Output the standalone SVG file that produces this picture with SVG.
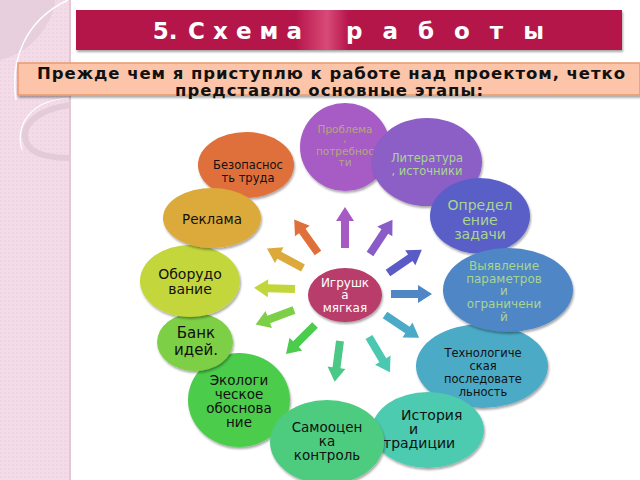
<svg xmlns="http://www.w3.org/2000/svg" xmlns:xlink="http://www.w3.org/1999/xlink" width="640" height="480" viewBox="0 0 640 480">
<defs>
<style>
.t{font-family:"DejaVu Sans","Noto Sans",sans-serif;text-anchor:middle}
.b{fill:#111}
.g{fill:#a9d58e}
.o{fill:#b3a77e}
.w{fill:#fff}
.n{filter:url(#sh)}
</style>
<filter id="sh" x="-20%" y="-20%" width="140%" height="140%">
<feDropShadow dx="1" dy="2" stdDeviation="1.2" flood-color="#000" flood-opacity="0.35"/>
</filter>
<pattern id="dots" width="4" height="4" patternUnits="userSpaceOnUse">
<rect width="4" height="4" fill="#f3dce8"/>
<circle cx="1" cy="1" r="0.7" fill="#e8cadb"/>
</pattern>
<linearGradient id="bar" x1="0" x2="1" y1="0" y2="0">
<stop offset="0" stop-color="#b5144a"/>
<stop offset="0.4" stop-color="#b5144a"/>
<stop offset="0.46" stop-color="#d84a78"/>
<stop offset="0.5" stop-color="#b5144a"/>
<stop offset="1" stop-color="#b5144a"/>
</linearGradient>
<path id="arr" d="M0,-4 H27 V-9 L41,0 L27,9 V4 H0 Z"/>
</defs>
<rect width="640" height="480" fill="#fff"/>
<g id="sidebar">
<rect x="0" y="0" width="70" height="480" fill="url(#dots)"/>
<path d="M0,60 C20,55 45,40 55,5 L55,0 L0,0 Z" fill="#e3ccd9" opacity="0.8"/>
<path d="M68,0 C25,20 10,60 16,100" fill="none" stroke="#fff" stroke-width="1.5"/>
<path d="M70,98 C30,100 15,125 22,150" fill="none" stroke="#fff" stroke-width="1.2"/>
<path d="M70,105 C35,110 25,125 25,135 C25,150 40,158 70,158" fill="none" stroke="#e4cbd9" stroke-width="6"/>
<line x1="70" y1="0" x2="70" y2="480" stroke="#e3c8d6" stroke-width="2"/>
</g>
<g id="title">
<rect x="76" y="10" width="546" height="40" fill="url(#bar)" filter="url(#sh)"/>
<text class="t w" x="165" y="39" font-size="23" font-weight="bold">5.</text>
<text class="w" x="188" y="39" font-family="DejaVu Sans,sans-serif" font-size="23" font-weight="bold" textLength="114" lengthAdjust="spacing">С х е м а</text>
<text class="w" x="346" y="39" font-family="DejaVu Sans,sans-serif" font-size="23" font-weight="bold" textLength="198" lengthAdjust="spacing">р а б о т ы</text>
</g>
<g id="subtitle">
<rect x="18" y="63" width="622" height="32" fill="#fcc5a9" stroke="#e99a6e" stroke-width="1.5" filter="url(#sh)"/>
<text class="b" x="37" y="79" font-family="DejaVu Sans,sans-serif" font-size="16.5" font-weight="bold" textLength="588" lengthAdjust="spacing">Прежде чем я приступлю к работе над проектом, четко</text>
<text class="b" x="175" y="96" font-family="DejaVu Sans,sans-serif" font-size="16.5" font-weight="bold" textLength="308" lengthAdjust="spacing">представлю основные этапы:</text>
</g>
<g id="connectors">
<use href="#arr" transform="translate(318,253) rotate(-125.5)" fill="#e0703a"/>
<use href="#arr" transform="translate(345,248) rotate(-90)" fill="#a65bc4"/>
<use href="#arr" transform="translate(370,254) rotate(-56.7)" fill="#8a5cc8"/>
<use href="#arr" transform="translate(388,273) rotate(-34.4)" fill="#5b5bc8"/>
<use href="#arr" transform="translate(391,294) rotate(0)" fill="#4f86c6"/>
<use href="#arr" transform="translate(385,315) rotate(33.7)" fill="#4aaac8"/>
<use href="#arr" transform="translate(369,337) rotate(59.3)" fill="#4cc8b0"/>
<use href="#arr" transform="translate(340,341) rotate(97.5)" fill="#4cc886"/>
<use href="#arr" transform="translate(315,325) rotate(135)" fill="#4ccc4c"/>
<use href="#arr" transform="translate(294,310) rotate(159.4)" fill="#7dcf45"/>
<use href="#arr" transform="translate(295,289) rotate(181.6)" fill="#c2d63a"/>
<use href="#arr" transform="translate(303,268) rotate(208.4)" fill="#dcaa3a"/>
</g>
<g id="problem">
<ellipse class="n" cx="345" cy="147" rx="45" ry="44" fill="#a65bc4"/>
<text class="t o" font-size="10.5"><tspan x="345" y="133">Проблема</tspan><tspan x="345" y="142">,</tspan><tspan x="345" y="155">потребнос</tspan><tspan x="345" y="166">ти</tspan></text>
</g>
<g id="literature">
<ellipse class="n" cx="427" cy="162" rx="55" ry="44" fill="#8c5fc6"/>
<text class="t g" font-size="11.5"><tspan x="427" y="162">Литература</tspan><tspan x="427" y="175">, источники</tspan></text>
</g>
<g id="safety">
<ellipse class="n" cx="246" cy="165" rx="48" ry="33" fill="#e0703a"/>
<text class="t b" font-size="11.5"><tspan x="248" y="169">Безопаснос</tspan><tspan x="248" y="182">ть труда</tspan></text>
</g>
<g id="task">
<ellipse class="n" cx="480" cy="216" rx="50" ry="38" fill="#5a5fc8"/>
<text class="t g" font-size="14"><tspan x="480" y="210">Определ</tspan><tspan x="480" y="225">ение</tspan><tspan x="480" y="239">задачи</tspan></text>
</g>
<g id="tech">
<ellipse class="n" cx="482" cy="366" rx="66" ry="42" fill="#4caac6"/>
<text class="t b" font-size="11.5"><tspan x="483" y="357">Технологиче</tspan><tspan x="483" y="370">ская</tspan><tspan x="483" y="383">последовате</tspan><tspan x="483" y="396">льность</tspan></text>
</g>
<g id="params">
<ellipse class="n" cx="508" cy="290" rx="65" ry="42" fill="#4f86c6"/>
<text class="t g" font-size="12"><tspan x="504" y="270">Выявление</tspan><tspan x="504" y="283">параметров</tspan><tspan x="504" y="295">и</tspan><tspan x="504" y="308">ограничени</tspan><tspan x="504" y="321">й</tspan></text>
</g>
<g id="eco">
<ellipse class="n" cx="239" cy="400" rx="51" ry="47" fill="#4ccc4c"/>
<text class="t b" font-size="13.5"><tspan x="239" y="385">Экологи</tspan><tspan x="239" y="399">ческое</tspan><tspan x="239" y="413">обоснова</tspan><tspan x="239" y="427">ние</tspan></text>
</g>
<g id="history">
<ellipse class="n" cx="428" cy="430" rx="56" ry="38" fill="#4dcbb0"/>
<text class="b" font-family="DejaVu Sans,sans-serif" font-size="14"><tspan x="401" y="420">История</tspan><tspan x="409" y="434">и</tspan><tspan x="383" y="448">традиции</tspan></text>
</g>
<g id="selfcheck">
<ellipse class="n" cx="327" cy="442" rx="57" ry="42" fill="#4dcc80"/>
<text class="t b" font-size="13.5"><tspan x="327" y="432">Самооцен</tspan><tspan x="327" y="446">ка</tspan><tspan x="327" y="460">контроль</tspan></text>
</g>
<g id="ideas">
<ellipse class="n" cx="195" cy="342" rx="38" ry="29" fill="#7dcf45"/>
<text class="t b" font-size="15"><tspan x="196" y="338">Банк</tspan><tspan x="196" y="355">идей.</tspan></text>
</g>
<g id="equipment">
<ellipse class="n" cx="190" cy="281" rx="50" ry="36" fill="#c3d63a"/>
<text class="t b" font-size="14"><tspan x="190" y="279">Оборудо</tspan><tspan x="190" y="294">вание</tspan></text>
</g>
<g id="ads">
<ellipse class="n" cx="212" cy="218" rx="49" ry="30" fill="#dcaa3a"/>
<text class="t b" font-size="13.5" x="212" y="224">Реклама</text>
</g>
<g id="center">
<ellipse class="n" cx="345" cy="295" rx="37" ry="27" fill="#b83d6a"/>
<text class="t w" font-size="12"><tspan x="345" y="287">Игрушк</tspan><tspan x="345" y="299">а</tspan><tspan x="345" y="312">мягкая</tspan></text>
</g>
</svg>
